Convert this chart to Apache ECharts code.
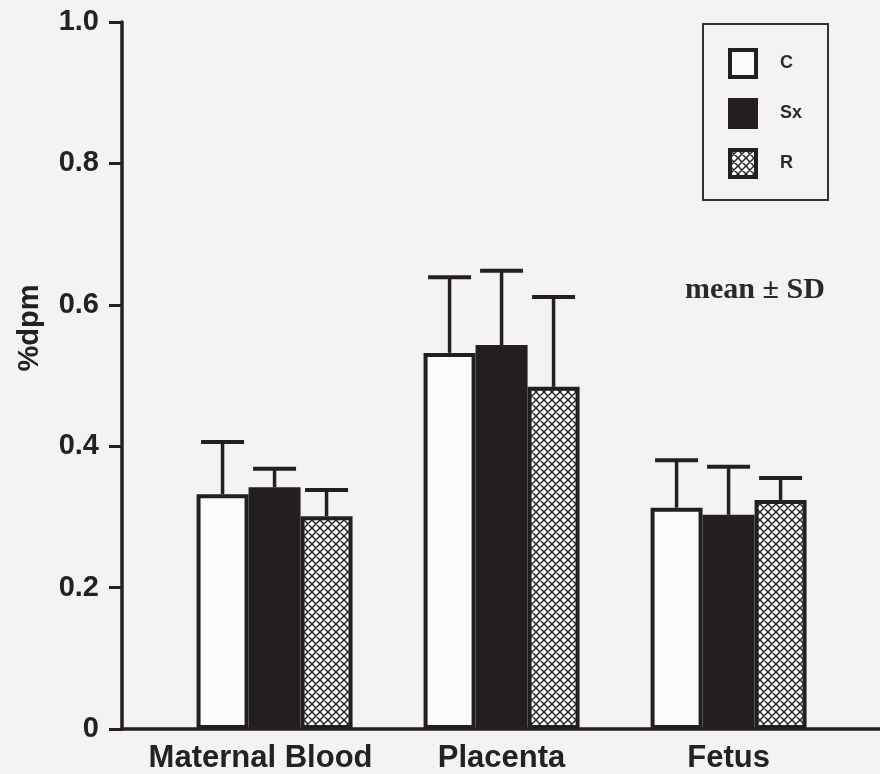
<!DOCTYPE html>
<html>
<head>
<meta charset="utf-8">
<script src="https://cdn.jsdelivr.net/npm/echarts@6/dist/echarts.min.js"></script>
<style>
html,body{margin:0;padding:0;background:#f4f2f3;}
#chart{width:880px;height:774px;}
</style>
</head>
<body>
<div id="chart"></div>
<script>
// ---- data ----
const categories = ['Maternal Blood', 'Placenta', 'Fetus'];
const groups = ['C', 'Sx', 'R'];
const meanC  = [0.332, 0.532, 0.313];
const sdC    = [0.074, 0.107, 0.067];
const meanSx = [0.342, 0.543, 0.303];
const sdSx   = [0.026, 0.105, 0.068];
const meanR  = [0.301, 0.484, 0.324];
const sdR    = [0.037, 0.127, 0.031];
const yTicks = [0, 0.2, 0.4, 0.6, 0.8, 1.0];
const annotation = 'mean \u00b1 SD';
const yName = '%dpm';

// ---- styling ----
const INK = '#231f20';
const BAR_W = 52, BAR_STEP = 52, CAP = 43;
const SANS = 'Liberation Sans';

function hatch() {
  const s = 8, c = document.createElement('canvas');
  c.width = s; c.height = s;
  const g = c.getContext('2d');
  g.fillStyle = '#fafafa'; g.fillRect(0, 0, s, s);
  g.strokeStyle = '#222'; g.lineWidth = 1.4;
  g.beginPath();
  g.moveTo(0, 0); g.lineTo(s, s);
  g.moveTo(s, 0); g.lineTo(0, s);
  g.moveTo(-1, s - 1); g.lineTo(1, s + 1);
  g.moveTo(s - 1, -1); g.lineTo(s + 1, 1);
  g.stroke();
  return c;
}
const hatchFill = { image: hatch(), repeat: 'repeat' };

const means = [meanC, meanSx, meanR];
const sds = [sdC, sdSx, sdR];
const fills = ['#fbfbfb', INK, hatchFill];

const barSeries = groups.map((g, gi) => ({
  name: g,
  type: 'bar',
  data: categories.map((c, i) => [i, means[gi][i]]),
  barWidth: BAR_W,
  barGap: '0%',
  itemStyle: { color: fills[gi], borderColor: INK, borderWidth: 4 },
  emphasis: { disabled: true },
  z: 2
}));

const errData = [];
groups.forEach((g, gi) => categories.forEach((c, i) => errData.push([i, means[gi][i], sds[gi][i], gi])));

const errSeries = {
  type: 'custom',
  data: errData,
  dimensions: ['x', 'mean', 'sd', 'g'],
  encode: { x: 0, y: 1 },
  z: 3,
  silent: true,
  renderItem: function (params, api) {
    const x = api.value(0), m = api.value(1), s = api.value(2), g = api.value(3);
    const b = api.coord([x, m]);
    const t = api.coord([x, m + s]);
    const cx = b[0] + (g - 1) * BAR_STEP;
    return {
      type: 'group',
      children: [
        { type: 'line', shape: { x1: cx, y1: b[1], x2: cx, y2: t[1] }, style: { stroke: INK, lineWidth: 3.5 } },
        { type: 'line', shape: { x1: cx - CAP / 2, y1: t[1], x2: cx + CAP / 2, y2: t[1] }, style: { stroke: INK, lineWidth: 4 } }
      ]
    };
  }
};

const xLabelFont = { fontFamily: SANS, fontWeight: 'bold', fontSize: 31, color: '#222' };

const chart = echarts.init(document.getElementById('chart'), null, { renderer: 'canvas' });
chart.setOption({
  backgroundColor: '#f4f2f3',
  animation: false,
  title: {
    text: annotation,
    left: 680, top: 270,
    textStyle: { fontFamily: 'Liberation Serif', fontWeight: 'bold', fontSize: 30, color: '#2a2a2a' }
  },
  legend: {
    left: 703, top: 24,
    orient: 'vertical',
    data: groups.map((g, gi) => ({ name: g, itemStyle: { color: fills[gi], borderColor: INK, borderWidth: 4 } })),
    selectedMode: false,
    icon: 'rect',
    itemWidth: 26, itemHeight: 27, itemGap: 19,
    padding: [24, 26, 21, 25],
    borderColor: '#333', borderWidth: 2,
    textStyle: { fontFamily: SANS, fontWeight: 'bold', fontSize: 18, color: '#2a2a2a', padding: [0, 0, 0, 19] }
  },
  grid: { left: 122, right: 0, top: 22, bottom: 45, containLabel: false },
  xAxis: {
    type: 'value',
    min: -0.672, max: 2.667,
    splitLine: { show: false },
    axisLine: { show: true, onZero: false, lineStyle: { color: INK, width: 3.5 } },
    axisTick: { show: false },
    axisLabel: {
      customValues: [0, 1, 2],
      formatter: v => {
        const i = Math.round(v);
        return i === 0 ? '{s|' + categories[i] + '}' : categories[i];
      },
      rich: { s: Object.assign({ padding: [0, 28, 0, 0] }, xLabelFont) },
      margin: 14,
      ...xLabelFont
    }
  },
  yAxis: {
    type: 'value',
    min: 0, max: 1, interval: 0.2,
    splitLine: { show: false },
    axisLine: { show: true, onZero: false, lineStyle: { color: INK, width: 3.5 } },
    axisTick: { show: true, length: 13, lineStyle: { color: INK, width: 3 } },
    axisLabel: {
      margin: 23,
      formatter: v => (v === 0 ? '0' : v.toFixed(1)),
      fontFamily: SANS, fontWeight: 'bold', fontSize: 29, color: '#222'
    }
  },
  graphic: [{
    type: 'text',
    x: 30, y: 328,
    rotation: Math.PI / 2,
    style: {
      text: yName,
      align: 'center', verticalAlign: 'middle',
      font: 'bold 29px "Liberation Sans"',
      fill: '#222'
    }
  }],
  series: barSeries.concat([errSeries])
});
</script>
</body>
</html>
